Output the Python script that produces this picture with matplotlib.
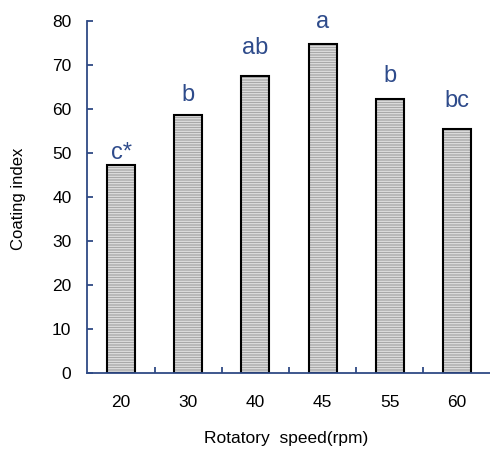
import matplotlib
matplotlib.use("Agg")
import matplotlib.pyplot as plt
import numpy as np

categories = ["20", "30", "40", "45", "55", "60"]
values = [47.3, 58.6, 67.6, 74.7, 62.3, 55.5]
letters = ["c*", "b", "ab", "a", "b", "bc"]
letter_y = [48.5, 61.7, 72.4, 78.3, 66.1, 60.4]
yticks = [0, 10, 20, 30, 40, 50, 60, 70, 80]

plt.rcParams['font.family'] = ['Liberation Sans', 'DejaVu Sans']
plt.rcParams['hatch.linewidth'] = 0.5

axis_color = '#2F4A85'
letter_color = '#2E4B8B'

fig = plt.figure(figsize=(4.9, 4.51), dpi=100)
ax = fig.add_axes([87.4/490, 1-372.7/451, 403.2/490, 351.7/451])

x = np.arange(len(categories))
# hatched fill (hatch takes the edge colour), then black outline on top
ax.bar(x, values, width=0.417, facecolor='#ececec', edgecolor='#8c8c8c',
       linewidth=0, hatch='-'*10, zorder=2)
ax.bar(x, values, width=0.417, facecolor='none', edgecolor='black',
       linewidth=1.5, zorder=3)

for xi, lab, ly in zip(x, letters, letter_y):
    ax.text(xi, ly, lab, ha='center', va='baseline', fontsize=17, color=letter_color)

ax.set_xlim(-0.5, len(categories) - 0.5)
ax.set_ylim(0, 80)
ax.set_yticks(yticks)
ax.set_xticks(x)
ax.set_xticklabels(categories)
ax.set_xticks(x[:-1] + 0.5, minor=True)

for s in ['top', 'right']:
    ax.spines[s].set_visible(False)
for s in ['left', 'bottom']:
    ax.spines[s].set_color(axis_color)
    ax.spines[s].set_linewidth(1.3)
    ax.spines[s].set_zorder(4)

ax.tick_params(axis='y', direction='in', length=4.5, width=1.3, color=axis_color,
               labelsize=12.5, pad=11.5)
ax.tick_params(axis='x', which='major', length=0, labelsize=12.5, pad=16)
ax.tick_params(axis='x', which='minor', direction='in', length=4.5, width=1.3, color=axis_color)

ax.set_xlabel("Rotatory  speed(rpm)", fontsize=12.5)
ax.xaxis.label.set_va('center')
ax.xaxis.set_label_coords((286-87.4)/403.2, (372.7-438)/351.7)

fig.text(18/490, 1-199/451, "Coating index", rotation=90, ha='center', va='center', fontsize=12)

fig.savefig("out.png", dpi=100)
